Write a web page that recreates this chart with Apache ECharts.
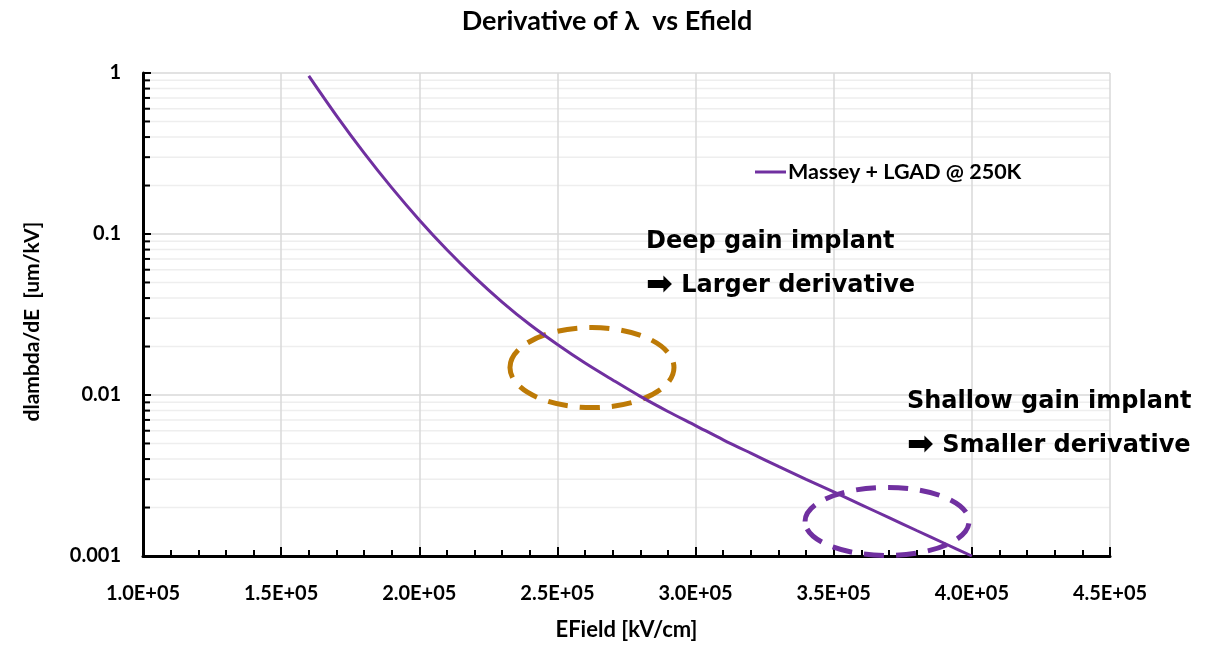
<!DOCTYPE html>
<html>
<head>
<meta charset="utf-8">
<script src="https://cdn.jsdelivr.net/npm/echarts@6/dist/echarts.min.js"></script>
<style>
html, body { margin: 0; padding: 0; background: #fff; }
#chart { width: 1214px; height: 646px; }
</style>
</head>
<body>
<div id="chart"></div>
<script>
// EField [kV/cm]
const efield = [160000, 170000, 180000, 190000, 200000, 210000, 220000, 230000, 240000,
  250000, 260000, 270000, 280000, 290000, 300000, 310000, 320000, 330000, 340000,
  350000, 360000, 370000, 380000, 390000, 400000]
// dlambda/dE [um/kV]
const dlambda = [0.96, 0.544, 0.319, 0.194, 0.1223, 0.0798, 0.054, 0.0378, 0.0274,
  0.0206, 0.0158, 0.0124, 0.0098, 0.0079, 0.00646, 0.00527, 0.00435, 0.0036, 0.00299,
  0.0025, 0.00208, 0.00173, 0.00144, 0.0012, 0.001]

const xTickLabels = ['1.0E+05', '1.5E+05', '2.0E+05', '2.5E+05', '3.0E+05', '3.5E+05', '4.0E+05', '4.5E+05']
const yTickLabels = ['0.001', '0.01', '0.1', '1']
const seriesName = 'Massey + LGAD @ 250K'

const xMin = 100000
const xMax = 450000
const xStep = 50000

// dashed ellipses: centre in data units, radii in px
const circles = [
  { x: 262500, y: 0.0148, rx: 82, ry: 40, color: '#BD7A06' },
  { x: 369300, y: 0.00164, rx: 82, ry: 34, color: '#7030A0' }
]

const notes = [
  { text: 'Deep gain implant', left: 646, top: 230 },
  { text: '{a|\u27a1} Larger derivative', left: 646, top: 270 },
  { text: 'Shallow gain implant', left: 907, top: 390 },
  { text: '{a|\u27a1} Smaller derivative', left: 907, top: 430 }
]

const purple = '#7030A0'
const baseFont = 'Lato, "Open Sans", sans-serif'

var myChart = echarts.init(document.getElementById('chart'))

var option = {
  animation: false,
  backgroundColor: '#fff',
  title: {
    text: 'Derivative of \u03bb  vs Efield',
    left: 'center',
    top: 3,
    textStyle: {
      fontFamily: baseFont,
      fontWeight: 'bold',
      fontSize: 27,
      color: '#000'
    }
  },
  legend: {
    left: 750,
    top: 156,
    itemWidth: 31,
    itemHeight: 3,
    itemGap: 4,
    icon: 'rect',
    textStyle: {
      fontFamily: baseFont,
      fontWeight: 'bold',
      fontSize: 21.5,
      color: '#000',
      padding: [0, 0, 0, -3]
    },
    data: [seriesName]
  },
  grid: {
    left: 143,
    right: 104,
    top: 73,
    bottom: 89,
    containLabel: false
  },
  xAxis: {
    type: 'value',
    min: xMin,
    max: xMax,
    interval: xStep,
    name: 'EField [kV/cm]',
    nameLocation: 'middle',
    nameGap: 63,
    nameTextStyle: {
      fontFamily: baseFont,
      fontWeight: 'bold',
      fontSize: 22,
      color: '#000'
    },
    axisLine: { lineStyle: { color: '#000', width: 3 } },
    axisTick: { inside: true, length: 9, lineStyle: { color: '#000', width: 2 } },
    minorTick: { show: true, splitNumber: 5, length: 6, lineStyle: { color: '#000', width: 2 } },
    splitLine: { show: true, lineStyle: { color: '#d9d9d9', width: 1.5 } },
    axisLabel: {
      margin: 28,
      fontFamily: baseFont,
      fontWeight: 'bold',
      fontSize: 20,
      color: '#000',
      formatter: function(v) {
        return xTickLabels[Math.round((v - xMin) / xStep)]
      }
    }
  },
  yAxis: {
    type: 'log',
    logBase: 10,
    min: 0.001,
    max: 1,
    name: 'dlambda/dE  [um/kV]',
    nameLocation: 'middle',
    nameGap: 100,
    nameTextStyle: {
      fontFamily: baseFont,
      fontWeight: 'bold',
      fontSize: 21,
      color: '#000',
      padding: [0, 14, 0, 0]
    },
    axisLine: { show: true, lineStyle: { color: '#000', width: 3 } },
    axisTick: { inside: true, length: 8, lineStyle: { color: '#000', width: 2 } },
    splitLine: { show: true, lineStyle: { color: '#d9d9d9', width: 1.5 } },
    axisLabel: {
      margin: 22,
      fontFamily: baseFont,
      fontWeight: 'bold',
      fontSize: 20,
      color: '#000',
      formatter: function(v) {
        return yTickLabels[Math.round(Math.log10(v)) + 3]
      }
    }
  },
  series: [{
    name: seriesName,
    type: 'line',
    data: efield.map((e, i) => [e, dlambda[i]]),
    symbol: 'none',
    smooth: 0.3,
    z: 5,
    lineStyle: { color: purple, width: 3 },
    itemStyle: { color: purple }
  }]
}

myChart.setOption(option)

// log-spaced minor grid lines and ticks, plus annotations
var graphics = []
var x0 = myChart.convertToPixel({ xAxisIndex: 0 }, xMin)
var x1 = myChart.convertToPixel({ xAxisIndex: 0 }, xMax)
for (let d = -3; d < 0; d++) {
  for (let m = 2; m <= 9; m++) {
    const py = myChart.convertToPixel({ yAxisIndex: 0 }, m * Math.pow(10, d))
    graphics.push({
      type: 'line',
      z: -1,
      shape: { x1: x0, y1: py, x2: x1, y2: py },
      style: { stroke: '#eeeeee', lineWidth: 1.5 },
      silent: true
    })
    graphics.push({
      type: 'line',
      z: 1,
      shape: { x1: x0, y1: py, x2: x0 + 7, y2: py },
      style: { stroke: '#000', lineWidth: 2 },
      silent: true
    })
  }
}
circles.forEach(c => {
  const p = myChart.convertToPixel({ gridIndex: 0 }, [c.x, c.y])
  graphics.push({
    type: 'ellipse',
    z: 2,
    shape: { cx: p[0], cy: p[1], rx: c.rx, ry: c.ry },
    style: { fill: 'none', stroke: c.color, lineWidth: 5, lineDash: [20, 12] },
    silent: true
  })
})
notes.forEach(n => {
  graphics.push({
    type: 'text',
    z: 10,
    left: n.left,
    top: n.top,
    style: {
      text: n.text,
      fill: '#000',
      font: 'bold 24px "DejaVu Sans", sans-serif',
      rich: {
        a: { font: 'bold 32px "DejaVu Sans", sans-serif', fill: '#000' }
      }
    }
  })
})
myChart.setOption({ graphic: graphics })

window.addEventListener('resize', () => {
  myChart.resize()
}, false)
</script>
</body>
</html>
